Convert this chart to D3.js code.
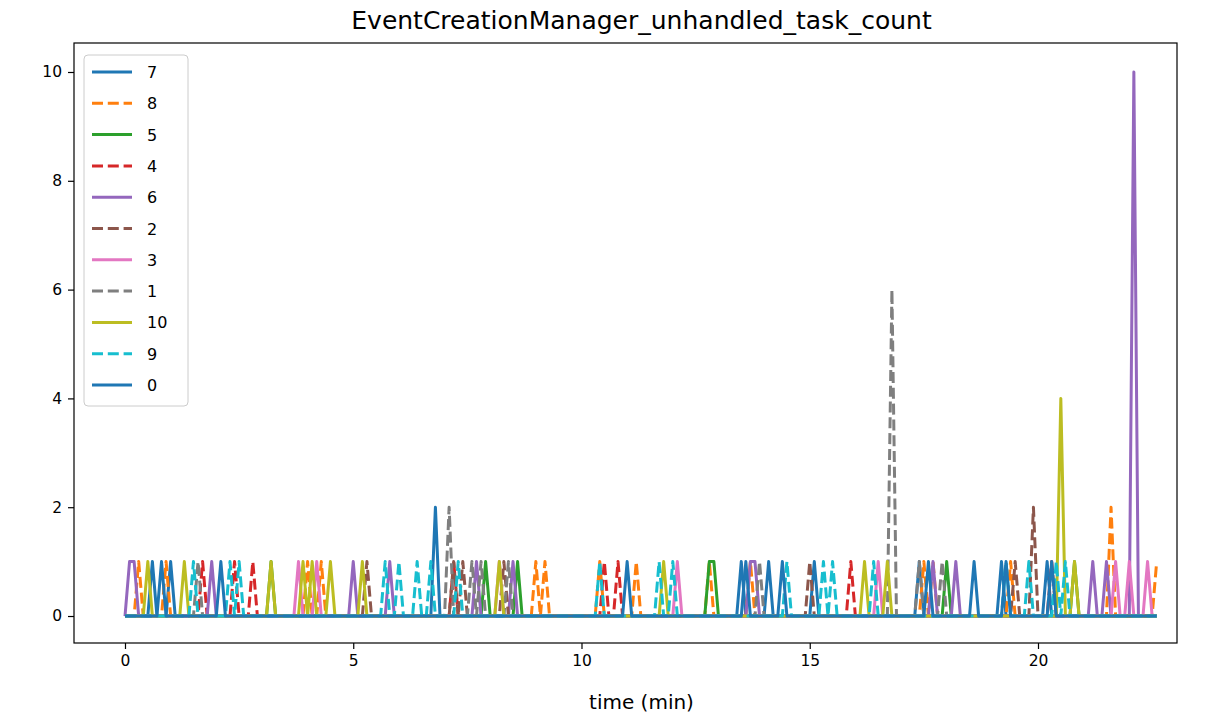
<!DOCTYPE html>
<html><head><meta charset="utf-8">
<script src="https://cdn.jsdelivr.net/npm/d3@7"></script>
<style>body{margin:0;background:#fff}svg{display:block}text{font-family:"DejaVu Sans",sans-serif;fill:#000}</style>
</head><body>
<svg id="c" width="1211" height="718"></svg>
<script>
// ---- data ----
const title = "EventCreationManager_unhandled_task_count";
const xLabel = "time (min)";
const xTicks = [0, 5, 10, 15, 20];
const yTicks = [0, 2, 4, 6, 8, 10];
const sampleStep = 0.1;   // minutes between samples
const lastTime = 22.6;    // last sample time (min)
const seriesNames = ["7", "8", "5", "4", "6", "2", "3", "1", "10", "9", "0"];
// non-zero samples of each series: [time (min), count]; all other samples are 0
const s7  = [[0.6,1],[1.0,1],[6.8,2],[13.5,1],[14.1,1],[15.1,1],[17.4,1],[19.2,1],[20.2,1]];
const s8  = [[0.3,1],[0.9,1],[4.0,1],[4.3,1],[9.0,1],[9.2,1],[10.4,1],[11.2,1],[12.8,1],[13.7,1],[17.5,1],[17.7,1],[19.4,1],[21.6,2],[22.6,1]];
const s5  = [[3.2,1],[7.9,1],[8.6,1],[12.8,1],[12.9,1],[18.0,1],[20.8,1]];
const s4  = [[1.7,1],[2.4,1],[2.8,1],[7.2,1],[10.5,1],[10.8,1],[15.9,1],[20.3,1]];
const s6  = [[0.1,1],[0.2,1],[1.9,1],[5.0,1],[5.8,1],[7.7,1],[8.5,1],[13.7,1],[13.8,1],[17.7,1],[18.2,1],[21.2,1],[21.5,1],[22.1,10]];
const s2  = [[5.3,1],[7.2,1],[7.4,1],[8.3,1],[15.0,1],[19.5,1],[19.9,2]];
const s3  = [[3.8,1],[4.2,1],[8.2,1],[12.1,1],[16.5,1],[21.7,1],[22.0,1],[22.4,1]];
const s1  = [[1.6,1],[7.1,2],[7.6,1],[7.8,1],[8.4,1],[13.9,1],[16.8,6],[17.4,1],[17.9,1]];
const s10 = [[0.5,1],[1.3,1],[3.2,1],[3.9,1],[4.1,1],[4.5,1],[5.2,1],[8.2,1],[11.8,1],[16.2,1],[16.7,1],[20.5,4],[20.8,1]];
const s9  = [[1.5,1],[2.3,1],[2.5,1],[5.7,1],[6.0,1],[6.4,1],[6.7,1],[7.3,1],[10.4,1],[11.7,1],[12.0,1],[14.5,1],[15.3,1],[15.5,1],[16.4,1],[19.3,1],[19.8,1],[20.4,1],[20.6,1]];
const s0  = [[0.8,1],[2.1,1],[11.0,1],[13.6,1],[14.4,1],[17.6,1],[18.6,1],[19.3,1],[20.3,1]];
const seriesSpikes = [s7, s8, s5, s4, s6, s2, s3, s1, s10, s9, s0];
const colors = ["#1f77b4","#ff7f0e","#2ca02c","#d62728","#9467bd","#8c564b","#e377c2","#7f7f7f","#bcbd22","#17becf","#1f77b4"];
const dashed = [false,true,false,true,false,true,false,true,false,true,false];

// ---- layout ----
const L = 74, R = 1177, T = 43, B = 643;
const svg = d3.select("#c");
svg.append("rect").attr("width",1211).attr("height",718).attr("fill","#fff");
const x = d3.scaleLinear().domain([-1.117, 23.045]).range([L, R]);
const y = d3.scaleLinear().domain([-0.496, 10.533]).range([B, T]);

svg.append("defs").append("clipPath").attr("id","clip")
  .append("rect").attr("x",L).attr("y",T).attr("width",R-L).attr("height",B-T);

const nSamples = Math.round(lastTime / sampleStep) + 1;
function buildSeries(spikes) {
  const vals = new Array(nSamples).fill(0);
  spikes.forEach(([t, v]) => { vals[Math.round(t / sampleStep)] = v; });
  return vals.map((v, i) => [i * sampleStep, v]);
}
const line = d3.line().x(d => x(d[0])).y(d => y(d[1]));
const g = svg.append("g").attr("clip-path","url(#clip)");
seriesSpikes.forEach((sp, i) => {
  g.append("path").datum(buildSeries(sp))
    .attr("d", line).attr("fill","none")
    .attr("stroke", colors[i]).attr("stroke-width", 3)
    .attr("stroke-linejoin","round")
    .attr("stroke-dasharray", dashed[i] ? "11,4.8" : null);
});

// axes
const xAxis = svg.append("g").attr("transform",`translate(0,${B})`)
  .call(d3.axisBottom(x).tickValues(xTicks).tickFormat(d3.format("d")).tickSize(6).tickPadding(6));
const yAxis = svg.append("g").attr("transform",`translate(${L},0)`)
  .call(d3.axisLeft(y).tickValues(yTicks).tickFormat(d3.format("d")).tickSize(6).tickPadding(6));
[xAxis, yAxis].forEach(a => {
  a.select(".domain").remove();
  a.selectAll("line").attr("stroke","#000").attr("stroke-width",1.2);
  a.selectAll("text").attr("font-size",15.5).attr("font-family","DejaVu Sans");
});
svg.append("rect").attr("x",L).attr("y",T).attr("width",R-L).attr("height",B-T)
  .attr("fill","none").attr("stroke","#000").attr("stroke-width",1.2);

svg.append("text").attr("x",(L+R)/2 + 16).attr("y",29).attr("text-anchor","middle")
  .attr("font-size",25).text(title);
svg.append("text").attr("x",(L+R)/2 + 16).attr("y",709).attr("text-anchor","middle")
  .attr("font-size",20).text(xLabel);

// legend
const lg = svg.append("g");
lg.append("rect").attr("x",84).attr("y",55).attr("width",104).attr("height",351).attr("rx",4)
  .attr("fill","#fff").attr("fill-opacity",0.8).attr("stroke","#ccc").attr("stroke-width",1);
seriesNames.forEach((n, i) => {
  const yy = 72 + i * 31.3;
  lg.append("line").attr("x1",92).attr("x2",132).attr("y1",yy).attr("y2",yy)
    .attr("stroke",colors[i]).attr("stroke-width",3)
    .attr("stroke-dasharray", dashed[i] ? "11,4.8" : null);
  lg.append("text").attr("x",147).attr("y",yy+6).attr("font-size",16).text(n);
});
</script>
</body></html>
